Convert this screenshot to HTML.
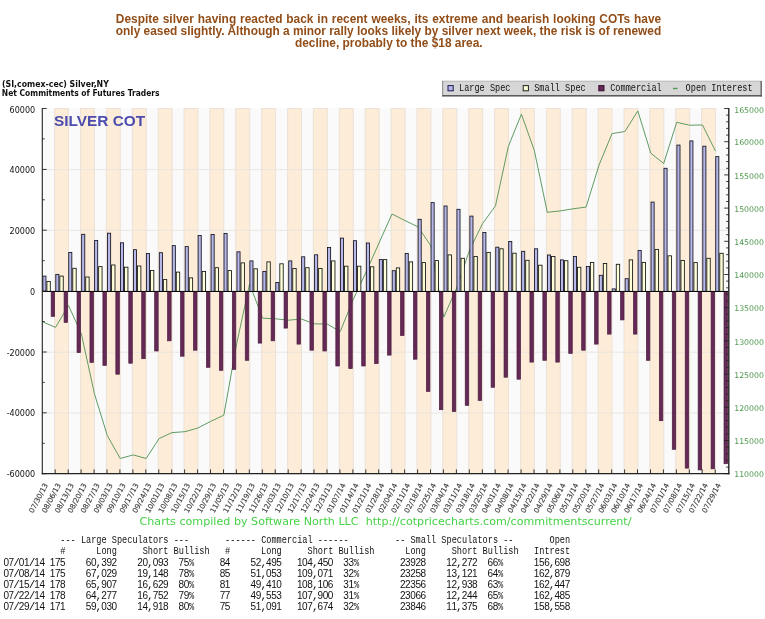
<!DOCTYPE html>
<html><head><meta charset="utf-8"><title>Silver COT</title>
<style>
html,body{margin:0;padding:0;background:#fff;}
svg{display:block;}
.hd{font-family:"Liberation Sans",sans-serif;font-weight:bold;font-size:11.9px;fill:#924e19;}
.mono{font-family:"Liberation Mono","DejaVu Sans Mono",monospace;font-size:11px;fill:#111;white-space:pre;}
.sd{font-family:"Liberation Sans",sans-serif;font-size:10px;fill:#111;}
.ax{font-family:"DejaVu Sans","Liberation Sans",sans-serif;font-size:8.05px;fill:#111;}
.dt{font-family:"DejaVu Sans","Liberation Sans",sans-serif;font-size:7.2px;fill:#3c3c3c;stroke:#3c3c3c;stroke-width:0.15px;text-anchor:end;}
.tt{font-family:"DejaVu Sans","Liberation Sans",sans-serif;font-weight:bold;font-size:8.1px;fill:#111;}
</style></head><body>
<svg width="765" height="619" viewBox="0 0 765 619">
<rect x="0" y="0" width="765" height="619" fill="#ffffff"/>
<text class="hd" x="115.8" y="22.5" textLength="545.4" lengthAdjust="spacing" style="word-spacing:0.55px">Despite silver having reacted back in recent weeks, its extreme and bearish looking COTs have</text>
<text class="hd" x="115.8" y="34.6" textLength="545.4" lengthAdjust="spacing" style="word-spacing:0px">only eased slightly. Although a minor rally looks likely by silver next week, the risk is of renewed</text>
<text class="hd" x="388.8" y="46.7" text-anchor="middle">decline, probably to the $18 area.</text>
<text class="tt" x="2" y="87.2" textLength="106.8" lengthAdjust="spacingAndGlyphs">(SI,comex-cec) Silver,NY</text>
<text class="tt" x="1.8" y="95.6" textLength="157.8" lengthAdjust="spacingAndGlyphs">Net Commitments of Futures Traders</text>
<rect x="42.3" y="108.5" width="686.5" height="365.2" fill="#fafafa"/>
<rect x="54.6" y="108.5" width="13.9" height="365.2" fill="#fdecd8" stroke="#ece2d8" stroke-width="1"/>
<rect x="80.5" y="108.5" width="13.9" height="365.2" fill="#fdecd8" stroke="#ece2d8" stroke-width="1"/>
<rect x="106.4" y="108.5" width="13.9" height="365.2" fill="#fdecd8" stroke="#ece2d8" stroke-width="1"/>
<rect x="132.3" y="108.5" width="13.9" height="365.2" fill="#fdecd8" stroke="#ece2d8" stroke-width="1"/>
<rect x="158.2" y="108.5" width="13.9" height="365.2" fill="#fdecd8" stroke="#ece2d8" stroke-width="1"/>
<rect x="184.0" y="108.5" width="13.9" height="365.2" fill="#fdecd8" stroke="#ece2d8" stroke-width="1"/>
<rect x="209.9" y="108.5" width="13.9" height="365.2" fill="#fdecd8" stroke="#ece2d8" stroke-width="1"/>
<rect x="235.8" y="108.5" width="13.9" height="365.2" fill="#fdecd8" stroke="#ece2d8" stroke-width="1"/>
<rect x="261.7" y="108.5" width="13.9" height="365.2" fill="#fdecd8" stroke="#ece2d8" stroke-width="1"/>
<rect x="287.6" y="108.5" width="13.9" height="365.2" fill="#fdecd8" stroke="#ece2d8" stroke-width="1"/>
<rect x="313.4" y="108.5" width="13.9" height="365.2" fill="#fdecd8" stroke="#ece2d8" stroke-width="1"/>
<rect x="339.3" y="108.5" width="13.9" height="365.2" fill="#fdecd8" stroke="#ece2d8" stroke-width="1"/>
<rect x="365.2" y="108.5" width="13.9" height="365.2" fill="#fdecd8" stroke="#ece2d8" stroke-width="1"/>
<rect x="391.1" y="108.5" width="13.9" height="365.2" fill="#fdecd8" stroke="#ece2d8" stroke-width="1"/>
<rect x="417.0" y="108.5" width="13.9" height="365.2" fill="#fdecd8" stroke="#ece2d8" stroke-width="1"/>
<rect x="442.8" y="108.5" width="13.9" height="365.2" fill="#fdecd8" stroke="#ece2d8" stroke-width="1"/>
<rect x="468.7" y="108.5" width="13.9" height="365.2" fill="#fdecd8" stroke="#ece2d8" stroke-width="1"/>
<rect x="494.6" y="108.5" width="13.9" height="365.2" fill="#fdecd8" stroke="#ece2d8" stroke-width="1"/>
<rect x="520.5" y="108.5" width="13.9" height="365.2" fill="#fdecd8" stroke="#ece2d8" stroke-width="1"/>
<rect x="546.4" y="108.5" width="13.9" height="365.2" fill="#fdecd8" stroke="#ece2d8" stroke-width="1"/>
<rect x="572.2" y="108.5" width="13.9" height="365.2" fill="#fdecd8" stroke="#ece2d8" stroke-width="1"/>
<rect x="598.1" y="108.5" width="13.9" height="365.2" fill="#fdecd8" stroke="#ece2d8" stroke-width="1"/>
<rect x="624.0" y="108.5" width="13.9" height="365.2" fill="#fdecd8" stroke="#ece2d8" stroke-width="1"/>
<rect x="649.9" y="108.5" width="13.9" height="365.2" fill="#fdecd8" stroke="#ece2d8" stroke-width="1"/>
<rect x="675.8" y="108.5" width="13.9" height="365.2" fill="#fdecd8" stroke="#ece2d8" stroke-width="1"/>
<rect x="701.6" y="108.5" width="13.9" height="365.2" fill="#fdecd8" stroke="#ece2d8" stroke-width="1"/>
<line x1="42.3" x2="728.8" y1="169.6" y2="169.6" stroke="#e9e4df" stroke-width="0.9"/>
<line x1="42.3" x2="728.8" y1="230.4" y2="230.4" stroke="#e9e4df" stroke-width="0.9"/>
<line x1="42.3" x2="728.8" y1="352.2" y2="352.2" stroke="#e9e4df" stroke-width="0.9"/>
<line x1="42.3" x2="728.8" y1="413.0" y2="413.0" stroke="#e9e4df" stroke-width="0.9"/>
<text x="54" y="125.8" style="font-family:'Liberation Sans',sans-serif;font-weight:bold;font-size:15.4px;fill:#4c4cae;">SILVER COT</text>
<polyline points="42.6,321.8 55.5,327.4 68.5,305.4 81.4,334.0 94.4,393.6 107.3,435.5 120.2,458.5 133.2,454.9 146.1,458.5 159.1,438.6 172.0,432.6 184.9,431.7 197.9,428.0 210.8,421.3 223.8,415.2 236.7,343.6 249.6,284.0 262.6,318.2 275.5,318.8 288.5,320.2 301.4,319.0 314.3,323.8 327.3,324.1 340.2,331.6 353.2,299.5 366.1,272.0 379.0,243.0 392.0,214.0 404.9,220.5 417.9,226.8 430.8,245.7 443.7,317.2 456.7,288.0 469.6,250.0 482.6,223.5 495.5,205.8 508.4,146.3 521.4,114.2 534.3,150.4 547.3,212.3 560.2,210.9 573.1,208.8 586.1,207.1 599.0,165.1 612.0,133.6 624.9,131.5 637.8,110.9 650.8,153.2 663.7,163.5 676.7,122.3 689.6,125.2 702.5,125.0 715.5,151.1" fill="none" stroke="#57965a" stroke-width="0.95" stroke-linejoin="round"/>
<rect x="51.15" y="291.8" width="3.5" height="24.5" fill="#642a55" stroke="#4d1c40" stroke-width="0.7"/>
<rect x="64.09" y="291.8" width="3.5" height="30.6" fill="#642a55" stroke="#4d1c40" stroke-width="0.7"/>
<rect x="77.03" y="291.8" width="3.5" height="60.8" fill="#642a55" stroke="#4d1c40" stroke-width="0.7"/>
<rect x="89.97" y="291.8" width="3.5" height="70.6" fill="#642a55" stroke="#4d1c40" stroke-width="0.7"/>
<rect x="102.91" y="291.8" width="3.5" height="73.6" fill="#642a55" stroke="#4d1c40" stroke-width="0.7"/>
<rect x="115.85" y="291.8" width="3.5" height="82.4" fill="#642a55" stroke="#4d1c40" stroke-width="0.7"/>
<rect x="128.79" y="291.8" width="3.5" height="71.4" fill="#642a55" stroke="#4d1c40" stroke-width="0.7"/>
<rect x="141.73" y="291.8" width="3.5" height="66.9" fill="#642a55" stroke="#4d1c40" stroke-width="0.7"/>
<rect x="154.67" y="291.8" width="3.5" height="59.2" fill="#642a55" stroke="#4d1c40" stroke-width="0.7"/>
<rect x="167.61" y="291.8" width="3.5" height="49.0" fill="#642a55" stroke="#4d1c40" stroke-width="0.7"/>
<rect x="180.55" y="291.8" width="3.5" height="64.4" fill="#642a55" stroke="#4d1c40" stroke-width="0.7"/>
<rect x="193.49" y="291.8" width="3.5" height="58.4" fill="#642a55" stroke="#4d1c40" stroke-width="0.7"/>
<rect x="206.43" y="291.8" width="3.5" height="75.5" fill="#642a55" stroke="#4d1c40" stroke-width="0.7"/>
<rect x="219.37" y="291.8" width="3.5" height="78.5" fill="#642a55" stroke="#4d1c40" stroke-width="0.7"/>
<rect x="232.31" y="291.8" width="3.5" height="77.6" fill="#642a55" stroke="#4d1c40" stroke-width="0.7"/>
<rect x="245.25" y="291.8" width="3.5" height="68.5" fill="#642a55" stroke="#4d1c40" stroke-width="0.7"/>
<rect x="258.19" y="291.8" width="3.5" height="51.3" fill="#642a55" stroke="#4d1c40" stroke-width="0.7"/>
<rect x="271.13" y="291.8" width="3.5" height="49.0" fill="#642a55" stroke="#4d1c40" stroke-width="0.7"/>
<rect x="284.07" y="291.8" width="3.5" height="36.3" fill="#642a55" stroke="#4d1c40" stroke-width="0.7"/>
<rect x="297.01" y="291.8" width="3.5" height="52.3" fill="#642a55" stroke="#4d1c40" stroke-width="0.7"/>
<rect x="309.95" y="291.8" width="3.5" height="58.4" fill="#642a55" stroke="#4d1c40" stroke-width="0.7"/>
<rect x="322.89" y="291.8" width="3.5" height="59.2" fill="#642a55" stroke="#4d1c40" stroke-width="0.7"/>
<rect x="335.83" y="291.8" width="3.5" height="74.2" fill="#642a55" stroke="#4d1c40" stroke-width="0.7"/>
<rect x="348.77" y="291.8" width="3.5" height="76.8" fill="#642a55" stroke="#4d1c40" stroke-width="0.7"/>
<rect x="361.71" y="291.8" width="3.5" height="74.2" fill="#642a55" stroke="#4d1c40" stroke-width="0.7"/>
<rect x="374.65" y="291.8" width="3.5" height="71.8" fill="#642a55" stroke="#4d1c40" stroke-width="0.7"/>
<rect x="387.59" y="291.8" width="3.5" height="63.3" fill="#642a55" stroke="#4d1c40" stroke-width="0.7"/>
<rect x="400.53" y="291.8" width="3.5" height="43.7" fill="#642a55" stroke="#4d1c40" stroke-width="0.7"/>
<rect x="413.47" y="291.8" width="3.5" height="67.4" fill="#642a55" stroke="#4d1c40" stroke-width="0.7"/>
<rect x="426.41" y="291.8" width="3.5" height="99.6" fill="#642a55" stroke="#4d1c40" stroke-width="0.7"/>
<rect x="439.35" y="291.8" width="3.5" height="117.9" fill="#642a55" stroke="#4d1c40" stroke-width="0.7"/>
<rect x="452.29" y="291.8" width="3.5" height="119.7" fill="#642a55" stroke="#4d1c40" stroke-width="0.7"/>
<rect x="465.23" y="291.8" width="3.5" height="113.5" fill="#642a55" stroke="#4d1c40" stroke-width="0.7"/>
<rect x="478.17" y="291.8" width="3.5" height="108.6" fill="#642a55" stroke="#4d1c40" stroke-width="0.7"/>
<rect x="491.11" y="291.8" width="3.5" height="95.5" fill="#642a55" stroke="#4d1c40" stroke-width="0.7"/>
<rect x="504.05" y="291.8" width="3.5" height="85.4" fill="#642a55" stroke="#4d1c40" stroke-width="0.7"/>
<rect x="516.99" y="291.8" width="3.5" height="87.4" fill="#642a55" stroke="#4d1c40" stroke-width="0.7"/>
<rect x="529.93" y="291.8" width="3.5" height="70.3" fill="#642a55" stroke="#4d1c40" stroke-width="0.7"/>
<rect x="542.87" y="291.8" width="3.5" height="68.5" fill="#642a55" stroke="#4d1c40" stroke-width="0.7"/>
<rect x="555.81" y="291.8" width="3.5" height="70.3" fill="#642a55" stroke="#4d1c40" stroke-width="0.7"/>
<rect x="568.75" y="291.8" width="3.5" height="61.6" fill="#642a55" stroke="#4d1c40" stroke-width="0.7"/>
<rect x="581.69" y="291.8" width="3.5" height="58.4" fill="#642a55" stroke="#4d1c40" stroke-width="0.7"/>
<rect x="594.63" y="291.8" width="3.5" height="52.3" fill="#642a55" stroke="#4d1c40" stroke-width="0.7"/>
<rect x="607.57" y="291.8" width="3.5" height="42.3" fill="#642a55" stroke="#4d1c40" stroke-width="0.7"/>
<rect x="620.51" y="291.8" width="3.5" height="28.1" fill="#642a55" stroke="#4d1c40" stroke-width="0.7"/>
<rect x="633.45" y="291.8" width="3.5" height="42.3" fill="#642a55" stroke="#4d1c40" stroke-width="0.7"/>
<rect x="646.39" y="291.8" width="3.5" height="68.5" fill="#642a55" stroke="#4d1c40" stroke-width="0.7"/>
<rect x="659.33" y="291.8" width="3.5" height="128.9" fill="#642a55" stroke="#4d1c40" stroke-width="0.7"/>
<rect x="672.27" y="291.8" width="3.5" height="157.5" fill="#642a55" stroke="#4d1c40" stroke-width="0.7"/>
<rect x="685.21" y="291.8" width="3.5" height="176.3" fill="#642a55" stroke="#4d1c40" stroke-width="0.7"/>
<rect x="698.15" y="291.8" width="3.5" height="178.1" fill="#642a55" stroke="#4d1c40" stroke-width="0.7"/>
<rect x="711.09" y="291.8" width="3.5" height="177.0" fill="#642a55" stroke="#4d1c40" stroke-width="0.7"/>
<rect x="724.03" y="291.8" width="3.5" height="171.9" fill="#642a55" stroke="#4d1c40" stroke-width="0.7"/>
<rect x="42.85" y="276.1" width="3.1" height="15.35" fill="#b8b8e8" stroke="#101020" stroke-width="0.85"/>
<rect x="46.90" y="281.4" width="3.4" height="10.05" fill="#fefed8" stroke="#101010" stroke-width="0.85"/>
<rect x="55.79" y="274.4" width="3.1" height="17.05" fill="#b8b8e8" stroke="#101020" stroke-width="0.85"/>
<rect x="59.84" y="276.1" width="3.4" height="15.35" fill="#fefed8" stroke="#101010" stroke-width="0.85"/>
<rect x="68.73" y="252.4" width="3.1" height="39.05" fill="#b8b8e8" stroke="#101020" stroke-width="0.85"/>
<rect x="72.78" y="268.3" width="3.4" height="23.15" fill="#fefed8" stroke="#101010" stroke-width="0.85"/>
<rect x="81.67" y="234.3" width="3.1" height="57.15" fill="#b8b8e8" stroke="#101020" stroke-width="0.85"/>
<rect x="85.72" y="277.0" width="3.4" height="14.45" fill="#fefed8" stroke="#101010" stroke-width="0.85"/>
<rect x="94.61" y="240.4" width="3.1" height="51.05" fill="#b8b8e8" stroke="#101020" stroke-width="0.85"/>
<rect x="98.66" y="266.6" width="3.4" height="24.85" fill="#fefed8" stroke="#101010" stroke-width="0.85"/>
<rect x="107.55" y="233.2" width="3.1" height="58.25" fill="#b8b8e8" stroke="#101020" stroke-width="0.85"/>
<rect x="111.60" y="265.0" width="3.4" height="26.45" fill="#fefed8" stroke="#101010" stroke-width="0.85"/>
<rect x="120.49" y="242.8" width="3.1" height="48.65" fill="#b8b8e8" stroke="#101020" stroke-width="0.85"/>
<rect x="124.54" y="267.2" width="3.4" height="24.25" fill="#fefed8" stroke="#101010" stroke-width="0.85"/>
<rect x="133.43" y="249.7" width="3.1" height="41.75" fill="#b8b8e8" stroke="#101020" stroke-width="0.85"/>
<rect x="137.48" y="266.0" width="3.4" height="25.45" fill="#fefed8" stroke="#101010" stroke-width="0.85"/>
<rect x="146.37" y="253.5" width="3.1" height="37.95" fill="#b8b8e8" stroke="#101020" stroke-width="0.85"/>
<rect x="150.42" y="270.5" width="3.4" height="20.95" fill="#fefed8" stroke="#101010" stroke-width="0.85"/>
<rect x="159.31" y="252.7" width="3.1" height="38.75" fill="#b8b8e8" stroke="#101020" stroke-width="0.85"/>
<rect x="163.36" y="279.6" width="3.4" height="11.85" fill="#fefed8" stroke="#101010" stroke-width="0.85"/>
<rect x="172.25" y="245.6" width="3.1" height="45.85" fill="#b8b8e8" stroke="#101020" stroke-width="0.85"/>
<rect x="176.30" y="272.1" width="3.4" height="19.35" fill="#fefed8" stroke="#101010" stroke-width="0.85"/>
<rect x="185.19" y="246.6" width="3.1" height="44.85" fill="#b8b8e8" stroke="#101020" stroke-width="0.85"/>
<rect x="189.24" y="277.9" width="3.4" height="13.55" fill="#fefed8" stroke="#101010" stroke-width="0.85"/>
<rect x="198.13" y="235.5" width="3.1" height="55.95" fill="#b8b8e8" stroke="#101020" stroke-width="0.85"/>
<rect x="202.18" y="271.4" width="3.4" height="20.05" fill="#fefed8" stroke="#101010" stroke-width="0.85"/>
<rect x="211.07" y="234.5" width="3.1" height="56.95" fill="#b8b8e8" stroke="#101020" stroke-width="0.85"/>
<rect x="215.12" y="267.7" width="3.4" height="23.75" fill="#fefed8" stroke="#101010" stroke-width="0.85"/>
<rect x="224.01" y="233.5" width="3.1" height="57.95" fill="#b8b8e8" stroke="#101020" stroke-width="0.85"/>
<rect x="228.06" y="270.6" width="3.4" height="20.85" fill="#fefed8" stroke="#101010" stroke-width="0.85"/>
<rect x="236.95" y="251.8" width="3.1" height="39.65" fill="#b8b8e8" stroke="#101020" stroke-width="0.85"/>
<rect x="241.00" y="262.9" width="3.4" height="28.55" fill="#fefed8" stroke="#101010" stroke-width="0.85"/>
<rect x="249.89" y="260.9" width="3.1" height="30.55" fill="#b8b8e8" stroke="#101020" stroke-width="0.85"/>
<rect x="253.94" y="268.8" width="3.4" height="22.65" fill="#fefed8" stroke="#101010" stroke-width="0.85"/>
<rect x="262.83" y="271.4" width="3.1" height="20.05" fill="#b8b8e8" stroke="#101020" stroke-width="0.85"/>
<rect x="266.88" y="261.9" width="3.4" height="29.55" fill="#fefed8" stroke="#101010" stroke-width="0.85"/>
<rect x="275.77" y="282.5" width="3.1" height="8.95" fill="#b8b8e8" stroke="#101020" stroke-width="0.85"/>
<rect x="279.82" y="263.8" width="3.4" height="27.65" fill="#fefed8" stroke="#101010" stroke-width="0.85"/>
<rect x="288.71" y="260.9" width="3.1" height="30.55" fill="#b8b8e8" stroke="#101020" stroke-width="0.85"/>
<rect x="292.76" y="268.5" width="3.4" height="22.95" fill="#fefed8" stroke="#101010" stroke-width="0.85"/>
<rect x="301.65" y="256.8" width="3.1" height="34.65" fill="#b8b8e8" stroke="#101020" stroke-width="0.85"/>
<rect x="305.70" y="267.7" width="3.4" height="23.75" fill="#fefed8" stroke="#101010" stroke-width="0.85"/>
<rect x="314.59" y="254.8" width="3.1" height="36.65" fill="#b8b8e8" stroke="#101020" stroke-width="0.85"/>
<rect x="318.64" y="268.5" width="3.4" height="22.95" fill="#fefed8" stroke="#101010" stroke-width="0.85"/>
<rect x="327.53" y="247.5" width="3.1" height="43.95" fill="#b8b8e8" stroke="#101020" stroke-width="0.85"/>
<rect x="331.58" y="260.9" width="3.4" height="30.55" fill="#fefed8" stroke="#101010" stroke-width="0.85"/>
<rect x="340.47" y="238.1" width="3.1" height="53.35" fill="#b8b8e8" stroke="#101020" stroke-width="0.85"/>
<rect x="344.52" y="266.2" width="3.4" height="25.25" fill="#fefed8" stroke="#101010" stroke-width="0.85"/>
<rect x="353.41" y="240.7" width="3.1" height="50.75" fill="#b8b8e8" stroke="#101020" stroke-width="0.85"/>
<rect x="357.46" y="266.2" width="3.4" height="25.25" fill="#fefed8" stroke="#101010" stroke-width="0.85"/>
<rect x="366.35" y="243.0" width="3.1" height="48.45" fill="#b8b8e8" stroke="#101020" stroke-width="0.85"/>
<rect x="370.40" y="266.8" width="3.4" height="24.65" fill="#fefed8" stroke="#101010" stroke-width="0.85"/>
<rect x="379.29" y="259.6" width="3.1" height="31.85" fill="#b8b8e8" stroke="#101020" stroke-width="0.85"/>
<rect x="383.34" y="259.6" width="3.4" height="31.85" fill="#fefed8" stroke="#101010" stroke-width="0.85"/>
<rect x="392.23" y="270.7" width="3.1" height="20.75" fill="#b8b8e8" stroke="#101020" stroke-width="0.85"/>
<rect x="396.28" y="267.9" width="3.4" height="23.55" fill="#fefed8" stroke="#101010" stroke-width="0.85"/>
<rect x="405.17" y="253.5" width="3.1" height="37.95" fill="#b8b8e8" stroke="#101020" stroke-width="0.85"/>
<rect x="409.22" y="261.9" width="3.4" height="29.55" fill="#fefed8" stroke="#101010" stroke-width="0.85"/>
<rect x="418.11" y="219.3" width="3.1" height="72.15" fill="#b8b8e8" stroke="#101020" stroke-width="0.85"/>
<rect x="422.16" y="262.6" width="3.4" height="28.85" fill="#fefed8" stroke="#101010" stroke-width="0.85"/>
<rect x="431.05" y="202.6" width="3.1" height="88.85" fill="#b8b8e8" stroke="#101020" stroke-width="0.85"/>
<rect x="435.10" y="260.6" width="3.4" height="30.85" fill="#fefed8" stroke="#101010" stroke-width="0.85"/>
<rect x="443.99" y="206.0" width="3.1" height="85.45" fill="#b8b8e8" stroke="#101020" stroke-width="0.85"/>
<rect x="448.04" y="254.9" width="3.4" height="36.55" fill="#fefed8" stroke="#101010" stroke-width="0.85"/>
<rect x="456.93" y="209.3" width="3.1" height="82.15" fill="#b8b8e8" stroke="#101020" stroke-width="0.85"/>
<rect x="460.98" y="258.3" width="3.4" height="33.15" fill="#fefed8" stroke="#101010" stroke-width="0.85"/>
<rect x="469.87" y="216.1" width="3.1" height="75.35" fill="#b8b8e8" stroke="#101020" stroke-width="0.85"/>
<rect x="473.92" y="256.5" width="3.4" height="34.95" fill="#fefed8" stroke="#101010" stroke-width="0.85"/>
<rect x="482.81" y="232.5" width="3.1" height="58.95" fill="#b8b8e8" stroke="#101020" stroke-width="0.85"/>
<rect x="486.86" y="252.4" width="3.4" height="39.05" fill="#fefed8" stroke="#101010" stroke-width="0.85"/>
<rect x="495.75" y="247.2" width="3.1" height="44.25" fill="#b8b8e8" stroke="#101020" stroke-width="0.85"/>
<rect x="499.80" y="248.8" width="3.4" height="42.65" fill="#fefed8" stroke="#101010" stroke-width="0.85"/>
<rect x="508.69" y="241.5" width="3.1" height="49.95" fill="#b8b8e8" stroke="#101020" stroke-width="0.85"/>
<rect x="512.74" y="253.2" width="3.4" height="38.25" fill="#fefed8" stroke="#101010" stroke-width="0.85"/>
<rect x="521.63" y="251.3" width="3.1" height="40.15" fill="#b8b8e8" stroke="#101020" stroke-width="0.85"/>
<rect x="525.68" y="260.3" width="3.4" height="31.15" fill="#fefed8" stroke="#101010" stroke-width="0.85"/>
<rect x="534.57" y="248.8" width="3.1" height="42.65" fill="#b8b8e8" stroke="#101020" stroke-width="0.85"/>
<rect x="538.62" y="265.2" width="3.4" height="26.25" fill="#fefed8" stroke="#101010" stroke-width="0.85"/>
<rect x="547.51" y="255.0" width="3.1" height="36.45" fill="#b8b8e8" stroke="#101020" stroke-width="0.85"/>
<rect x="551.56" y="256.5" width="3.4" height="34.95" fill="#fefed8" stroke="#101010" stroke-width="0.85"/>
<rect x="560.45" y="259.9" width="3.1" height="31.55" fill="#b8b8e8" stroke="#101020" stroke-width="0.85"/>
<rect x="564.50" y="260.7" width="3.4" height="30.75" fill="#fefed8" stroke="#101010" stroke-width="0.85"/>
<rect x="573.39" y="256.5" width="3.1" height="34.95" fill="#b8b8e8" stroke="#101020" stroke-width="0.85"/>
<rect x="577.44" y="267.3" width="3.4" height="24.15" fill="#fefed8" stroke="#101010" stroke-width="0.85"/>
<rect x="586.33" y="266.5" width="3.1" height="24.95" fill="#b8b8e8" stroke="#101020" stroke-width="0.85"/>
<rect x="590.38" y="262.4" width="3.4" height="29.05" fill="#fefed8" stroke="#101010" stroke-width="0.85"/>
<rect x="599.27" y="275.3" width="3.1" height="16.15" fill="#b8b8e8" stroke="#101020" stroke-width="0.85"/>
<rect x="603.32" y="263.5" width="3.4" height="27.95" fill="#fefed8" stroke="#101010" stroke-width="0.85"/>
<rect x="612.21" y="288.9" width="3.1" height="2.55" fill="#b8b8e8" stroke="#101020" stroke-width="0.85"/>
<rect x="616.26" y="264.3" width="3.4" height="27.15" fill="#fefed8" stroke="#101010" stroke-width="0.85"/>
<rect x="625.15" y="278.7" width="3.1" height="12.75" fill="#b8b8e8" stroke="#101020" stroke-width="0.85"/>
<rect x="629.20" y="259.9" width="3.4" height="31.55" fill="#fefed8" stroke="#101010" stroke-width="0.85"/>
<rect x="638.09" y="250.4" width="3.1" height="41.05" fill="#b8b8e8" stroke="#101020" stroke-width="0.85"/>
<rect x="642.14" y="262.4" width="3.4" height="29.05" fill="#fefed8" stroke="#101010" stroke-width="0.85"/>
<rect x="651.03" y="202.1" width="3.1" height="89.35" fill="#b8b8e8" stroke="#101020" stroke-width="0.85"/>
<rect x="655.08" y="249.4" width="3.4" height="42.05" fill="#fefed8" stroke="#101010" stroke-width="0.85"/>
<rect x="663.97" y="168.3" width="3.1" height="123.15" fill="#b8b8e8" stroke="#101020" stroke-width="0.85"/>
<rect x="668.02" y="255.8" width="3.4" height="35.65" fill="#fefed8" stroke="#101010" stroke-width="0.85"/>
<rect x="676.91" y="145.1" width="3.1" height="146.35" fill="#b8b8e8" stroke="#101020" stroke-width="0.85"/>
<rect x="680.96" y="260.4" width="3.4" height="31.05" fill="#fefed8" stroke="#101010" stroke-width="0.85"/>
<rect x="689.85" y="140.9" width="3.1" height="150.55" fill="#b8b8e8" stroke="#101020" stroke-width="0.85"/>
<rect x="693.90" y="262.6" width="3.4" height="28.85" fill="#fefed8" stroke="#101010" stroke-width="0.85"/>
<rect x="702.79" y="146.2" width="3.1" height="145.25" fill="#b8b8e8" stroke="#101020" stroke-width="0.85"/>
<rect x="706.84" y="258.3" width="3.4" height="33.15" fill="#fefed8" stroke="#101010" stroke-width="0.85"/>
<rect x="715.73" y="156.6" width="3.1" height="134.85" fill="#b8b8e8" stroke="#101020" stroke-width="0.85"/>
<rect x="719.78" y="253.3" width="3.4" height="38.15" fill="#fefed8" stroke="#101010" stroke-width="0.85"/>
<line x1="42.3" x2="728.8" y1="291.45" y2="291.45" stroke="#000" stroke-width="0.95"/>
<line x1="42.3" x2="42.3" y1="108.0" y2="474.3" stroke="#2a2a2a" stroke-width="1.15"/>
<line x1="728.8" x2="728.8" y1="108.0" y2="474.3" stroke="#222" stroke-width="1.4"/>
<line x1="41.699999999999996" x2="729.5999999999999" y1="473.7" y2="473.7" stroke="#222" stroke-width="1.3"/>
<line x1="42.3" x2="46.699999999999996" y1="108.5" y2="108.5" stroke="#222" stroke-width="0.9"/>
<text class="ax" x="35.2" y="113.1" text-anchor="end">60000</text>
<line x1="42.3" x2="44.699999999999996" y1="138.9" y2="138.9" stroke="#222" stroke-width="0.9"/>
<line x1="42.3" x2="46.699999999999996" y1="169.4" y2="169.4" stroke="#222" stroke-width="0.9"/>
<text class="ax" x="35.2" y="173.2" text-anchor="end">40000</text>
<line x1="42.3" x2="44.699999999999996" y1="199.8" y2="199.8" stroke="#222" stroke-width="0.9"/>
<line x1="42.3" x2="46.699999999999996" y1="230.2" y2="230.2" stroke="#222" stroke-width="0.9"/>
<text class="ax" x="35.2" y="234.0" text-anchor="end">20000</text>
<line x1="42.3" x2="44.699999999999996" y1="260.7" y2="260.7" stroke="#222" stroke-width="0.9"/>
<line x1="42.3" x2="46.699999999999996" y1="291.1" y2="291.1" stroke="#222" stroke-width="0.9"/>
<text class="ax" x="35.2" y="294.9" text-anchor="end">0</text>
<line x1="42.3" x2="44.699999999999996" y1="321.5" y2="321.5" stroke="#222" stroke-width="0.9"/>
<line x1="42.3" x2="46.699999999999996" y1="352.0" y2="352.0" stroke="#222" stroke-width="0.9"/>
<text class="ax" x="35.2" y="355.8" text-anchor="end">-20000</text>
<line x1="42.3" x2="44.699999999999996" y1="382.4" y2="382.4" stroke="#222" stroke-width="0.9"/>
<line x1="42.3" x2="46.699999999999996" y1="412.8" y2="412.8" stroke="#222" stroke-width="0.9"/>
<text class="ax" x="35.2" y="416.1" text-anchor="end">-40000</text>
<line x1="42.3" x2="44.699999999999996" y1="443.3" y2="443.3" stroke="#222" stroke-width="0.9"/>
<line x1="42.3" x2="46.699999999999996" y1="473.7" y2="473.7" stroke="#222" stroke-width="0.9"/>
<text class="ax" x="35.2" y="477.0" text-anchor="end">-60000</text>
<line x1="724.1999999999999" x2="728.8" y1="108.5" y2="108.5" stroke="#222" stroke-width="0.9"/>
<text class="ax" x="734.2" y="112.9" style="fill:#4f984f;font-size:7.8px">165000</text>
<line x1="726.1999999999999" x2="728.8" y1="115.1" y2="115.1" stroke="#222" stroke-width="0.9"/>
<line x1="726.1999999999999" x2="728.8" y1="121.8" y2="121.8" stroke="#222" stroke-width="0.9"/>
<line x1="726.1999999999999" x2="728.8" y1="128.4" y2="128.4" stroke="#222" stroke-width="0.9"/>
<line x1="726.1999999999999" x2="728.8" y1="135.1" y2="135.1" stroke="#222" stroke-width="0.9"/>
<line x1="724.1999999999999" x2="728.8" y1="141.7" y2="141.7" stroke="#222" stroke-width="0.9"/>
<text class="ax" x="734.2" y="145.4" style="fill:#4f984f;font-size:7.8px">160000</text>
<line x1="726.1999999999999" x2="728.8" y1="148.3" y2="148.3" stroke="#222" stroke-width="0.9"/>
<line x1="726.1999999999999" x2="728.8" y1="155.0" y2="155.0" stroke="#222" stroke-width="0.9"/>
<line x1="726.1999999999999" x2="728.8" y1="161.6" y2="161.6" stroke="#222" stroke-width="0.9"/>
<line x1="726.1999999999999" x2="728.8" y1="168.3" y2="168.3" stroke="#222" stroke-width="0.9"/>
<line x1="724.1999999999999" x2="728.8" y1="174.9" y2="174.9" stroke="#222" stroke-width="0.9"/>
<text class="ax" x="734.2" y="178.6" style="fill:#4f984f;font-size:7.8px">155000</text>
<line x1="726.1999999999999" x2="728.8" y1="181.5" y2="181.5" stroke="#222" stroke-width="0.9"/>
<line x1="726.1999999999999" x2="728.8" y1="188.2" y2="188.2" stroke="#222" stroke-width="0.9"/>
<line x1="726.1999999999999" x2="728.8" y1="194.8" y2="194.8" stroke="#222" stroke-width="0.9"/>
<line x1="726.1999999999999" x2="728.8" y1="201.5" y2="201.5" stroke="#222" stroke-width="0.9"/>
<line x1="724.1999999999999" x2="728.8" y1="208.1" y2="208.1" stroke="#222" stroke-width="0.9"/>
<text class="ax" x="734.2" y="211.8" style="fill:#4f984f;font-size:7.8px">150000</text>
<line x1="726.1999999999999" x2="728.8" y1="214.7" y2="214.7" stroke="#222" stroke-width="0.9"/>
<line x1="726.1999999999999" x2="728.8" y1="221.4" y2="221.4" stroke="#222" stroke-width="0.9"/>
<line x1="726.1999999999999" x2="728.8" y1="228.0" y2="228.0" stroke="#222" stroke-width="0.9"/>
<line x1="726.1999999999999" x2="728.8" y1="234.7" y2="234.7" stroke="#222" stroke-width="0.9"/>
<line x1="724.1999999999999" x2="728.8" y1="241.3" y2="241.3" stroke="#222" stroke-width="0.9"/>
<text class="ax" x="734.2" y="245.0" style="fill:#4f984f;font-size:7.8px">145000</text>
<line x1="726.1999999999999" x2="728.8" y1="247.9" y2="247.9" stroke="#222" stroke-width="0.9"/>
<line x1="726.1999999999999" x2="728.8" y1="254.6" y2="254.6" stroke="#222" stroke-width="0.9"/>
<line x1="726.1999999999999" x2="728.8" y1="261.2" y2="261.2" stroke="#222" stroke-width="0.9"/>
<line x1="726.1999999999999" x2="728.8" y1="267.9" y2="267.9" stroke="#222" stroke-width="0.9"/>
<line x1="724.1999999999999" x2="728.8" y1="274.5" y2="274.5" stroke="#222" stroke-width="0.9"/>
<text class="ax" x="734.2" y="278.2" style="fill:#4f984f;font-size:7.8px">140000</text>
<line x1="726.1999999999999" x2="728.8" y1="281.1" y2="281.1" stroke="#222" stroke-width="0.9"/>
<line x1="726.1999999999999" x2="728.8" y1="287.8" y2="287.8" stroke="#222" stroke-width="0.9"/>
<line x1="726.1999999999999" x2="728.8" y1="294.4" y2="294.4" stroke="#222" stroke-width="0.9"/>
<line x1="726.1999999999999" x2="728.8" y1="301.1" y2="301.1" stroke="#222" stroke-width="0.9"/>
<line x1="724.1999999999999" x2="728.8" y1="307.7" y2="307.7" stroke="#222" stroke-width="0.9"/>
<text class="ax" x="734.2" y="311.4" style="fill:#4f984f;font-size:7.8px">135000</text>
<line x1="726.1999999999999" x2="728.8" y1="314.3" y2="314.3" stroke="#222" stroke-width="0.9"/>
<line x1="726.1999999999999" x2="728.8" y1="321.0" y2="321.0" stroke="#222" stroke-width="0.9"/>
<line x1="726.1999999999999" x2="728.8" y1="327.6" y2="327.6" stroke="#222" stroke-width="0.9"/>
<line x1="726.1999999999999" x2="728.8" y1="334.3" y2="334.3" stroke="#222" stroke-width="0.9"/>
<line x1="724.1999999999999" x2="728.8" y1="340.9" y2="340.9" stroke="#222" stroke-width="0.9"/>
<text class="ax" x="734.2" y="344.6" style="fill:#4f984f;font-size:7.8px">130000</text>
<line x1="726.1999999999999" x2="728.8" y1="347.5" y2="347.5" stroke="#222" stroke-width="0.9"/>
<line x1="726.1999999999999" x2="728.8" y1="354.2" y2="354.2" stroke="#222" stroke-width="0.9"/>
<line x1="726.1999999999999" x2="728.8" y1="360.8" y2="360.8" stroke="#222" stroke-width="0.9"/>
<line x1="726.1999999999999" x2="728.8" y1="367.5" y2="367.5" stroke="#222" stroke-width="0.9"/>
<line x1="724.1999999999999" x2="728.8" y1="374.1" y2="374.1" stroke="#222" stroke-width="0.9"/>
<text class="ax" x="734.2" y="377.8" style="fill:#4f984f;font-size:7.8px">125000</text>
<line x1="726.1999999999999" x2="728.8" y1="380.7" y2="380.7" stroke="#222" stroke-width="0.9"/>
<line x1="726.1999999999999" x2="728.8" y1="387.4" y2="387.4" stroke="#222" stroke-width="0.9"/>
<line x1="726.1999999999999" x2="728.8" y1="394.0" y2="394.0" stroke="#222" stroke-width="0.9"/>
<line x1="726.1999999999999" x2="728.8" y1="400.7" y2="400.7" stroke="#222" stroke-width="0.9"/>
<line x1="724.1999999999999" x2="728.8" y1="407.3" y2="407.3" stroke="#222" stroke-width="0.9"/>
<text class="ax" x="734.2" y="411.0" style="fill:#4f984f;font-size:7.8px">120000</text>
<line x1="726.1999999999999" x2="728.8" y1="413.9" y2="413.9" stroke="#222" stroke-width="0.9"/>
<line x1="726.1999999999999" x2="728.8" y1="420.6" y2="420.6" stroke="#222" stroke-width="0.9"/>
<line x1="726.1999999999999" x2="728.8" y1="427.2" y2="427.2" stroke="#222" stroke-width="0.9"/>
<line x1="726.1999999999999" x2="728.8" y1="433.9" y2="433.9" stroke="#222" stroke-width="0.9"/>
<line x1="724.1999999999999" x2="728.8" y1="440.5" y2="440.5" stroke="#222" stroke-width="0.9"/>
<text class="ax" x="734.2" y="444.2" style="fill:#4f984f;font-size:7.8px">115000</text>
<line x1="726.1999999999999" x2="728.8" y1="447.1" y2="447.1" stroke="#222" stroke-width="0.9"/>
<line x1="726.1999999999999" x2="728.8" y1="453.8" y2="453.8" stroke="#222" stroke-width="0.9"/>
<line x1="726.1999999999999" x2="728.8" y1="460.4" y2="460.4" stroke="#222" stroke-width="0.9"/>
<line x1="726.1999999999999" x2="728.8" y1="467.1" y2="467.1" stroke="#222" stroke-width="0.9"/>
<line x1="724.1999999999999" x2="728.8" y1="473.7" y2="473.7" stroke="#222" stroke-width="0.9"/>
<text class="ax" x="734.2" y="476.9" style="fill:#4f984f;font-size:7.8px">110000</text>
<text class="dt" transform="translate(48.2,485.0) rotate(-62)">07/30/13</text>
<line x1="55.2" x2="55.2" y1="469.4" y2="473.7" stroke="#222" stroke-width="0.9"/>
<text class="dt" transform="translate(61.1,485.0) rotate(-62)">08/06/13</text>
<line x1="68.2" x2="68.2" y1="469.4" y2="473.7" stroke="#222" stroke-width="0.9"/>
<text class="dt" transform="translate(74.1,485.0) rotate(-62)">08/13/13</text>
<line x1="81.1" x2="81.1" y1="469.4" y2="473.7" stroke="#222" stroke-width="0.9"/>
<text class="dt" transform="translate(87.0,485.0) rotate(-62)">08/20/13</text>
<line x1="94.1" x2="94.1" y1="469.4" y2="473.7" stroke="#222" stroke-width="0.9"/>
<text class="dt" transform="translate(100.0,485.0) rotate(-62)">08/27/13</text>
<line x1="107.0" x2="107.0" y1="469.4" y2="473.7" stroke="#222" stroke-width="0.9"/>
<text class="dt" transform="translate(112.9,485.0) rotate(-62)">09/03/13</text>
<line x1="119.9" x2="119.9" y1="469.4" y2="473.7" stroke="#222" stroke-width="0.9"/>
<text class="dt" transform="translate(125.8,485.0) rotate(-62)">09/10/13</text>
<line x1="132.9" x2="132.9" y1="469.4" y2="473.7" stroke="#222" stroke-width="0.9"/>
<text class="dt" transform="translate(138.8,485.0) rotate(-62)">09/17/13</text>
<line x1="145.8" x2="145.8" y1="469.4" y2="473.7" stroke="#222" stroke-width="0.9"/>
<text class="dt" transform="translate(151.7,485.0) rotate(-62)">09/24/13</text>
<line x1="158.8" x2="158.8" y1="469.4" y2="473.7" stroke="#222" stroke-width="0.9"/>
<text class="dt" transform="translate(164.7,485.0) rotate(-62)">10/01/13</text>
<line x1="171.7" x2="171.7" y1="469.4" y2="473.7" stroke="#222" stroke-width="0.9"/>
<text class="dt" transform="translate(177.6,485.0) rotate(-62)">10/08/13</text>
<line x1="184.6" x2="184.6" y1="469.4" y2="473.7" stroke="#222" stroke-width="0.9"/>
<text class="dt" transform="translate(190.5,485.0) rotate(-62)">10/15/13</text>
<line x1="197.6" x2="197.6" y1="469.4" y2="473.7" stroke="#222" stroke-width="0.9"/>
<text class="dt" transform="translate(203.5,485.0) rotate(-62)">10/22/13</text>
<line x1="210.5" x2="210.5" y1="469.4" y2="473.7" stroke="#222" stroke-width="0.9"/>
<text class="dt" transform="translate(216.4,485.0) rotate(-62)">10/29/13</text>
<line x1="223.5" x2="223.5" y1="469.4" y2="473.7" stroke="#222" stroke-width="0.9"/>
<text class="dt" transform="translate(229.4,485.0) rotate(-62)">11/05/13</text>
<line x1="236.4" x2="236.4" y1="469.4" y2="473.7" stroke="#222" stroke-width="0.9"/>
<text class="dt" transform="translate(242.3,485.0) rotate(-62)">11/12/13</text>
<line x1="249.3" x2="249.3" y1="469.4" y2="473.7" stroke="#222" stroke-width="0.9"/>
<text class="dt" transform="translate(255.2,485.0) rotate(-62)">11/19/13</text>
<line x1="262.3" x2="262.3" y1="469.4" y2="473.7" stroke="#222" stroke-width="0.9"/>
<text class="dt" transform="translate(268.2,485.0) rotate(-62)">11/26/13</text>
<line x1="275.2" x2="275.2" y1="469.4" y2="473.7" stroke="#222" stroke-width="0.9"/>
<text class="dt" transform="translate(281.1,485.0) rotate(-62)">12/03/13</text>
<line x1="288.2" x2="288.2" y1="469.4" y2="473.7" stroke="#222" stroke-width="0.9"/>
<text class="dt" transform="translate(294.1,485.0) rotate(-62)">12/10/13</text>
<line x1="301.1" x2="301.1" y1="469.4" y2="473.7" stroke="#222" stroke-width="0.9"/>
<text class="dt" transform="translate(307.0,485.0) rotate(-62)">12/17/13</text>
<line x1="314.0" x2="314.0" y1="469.4" y2="473.7" stroke="#222" stroke-width="0.9"/>
<text class="dt" transform="translate(319.9,485.0) rotate(-62)">12/24/13</text>
<line x1="327.0" x2="327.0" y1="469.4" y2="473.7" stroke="#222" stroke-width="0.9"/>
<text class="dt" transform="translate(332.9,485.0) rotate(-62)">12/31/13</text>
<line x1="339.9" x2="339.9" y1="469.4" y2="473.7" stroke="#222" stroke-width="0.9"/>
<text class="dt" transform="translate(345.8,485.0) rotate(-62)">01/07/14</text>
<line x1="352.9" x2="352.9" y1="469.4" y2="473.7" stroke="#222" stroke-width="0.9"/>
<text class="dt" transform="translate(358.8,485.0) rotate(-62)">01/14/14</text>
<line x1="365.8" x2="365.8" y1="469.4" y2="473.7" stroke="#222" stroke-width="0.9"/>
<text class="dt" transform="translate(371.7,485.0) rotate(-62)">01/21/14</text>
<line x1="378.7" x2="378.7" y1="469.4" y2="473.7" stroke="#222" stroke-width="0.9"/>
<text class="dt" transform="translate(384.6,485.0) rotate(-62)">01/28/14</text>
<line x1="391.7" x2="391.7" y1="469.4" y2="473.7" stroke="#222" stroke-width="0.9"/>
<text class="dt" transform="translate(397.6,485.0) rotate(-62)">02/04/14</text>
<line x1="404.6" x2="404.6" y1="469.4" y2="473.7" stroke="#222" stroke-width="0.9"/>
<text class="dt" transform="translate(410.5,485.0) rotate(-62)">02/11/14</text>
<line x1="417.6" x2="417.6" y1="469.4" y2="473.7" stroke="#222" stroke-width="0.9"/>
<text class="dt" transform="translate(423.5,485.0) rotate(-62)">02/18/14</text>
<line x1="430.5" x2="430.5" y1="469.4" y2="473.7" stroke="#222" stroke-width="0.9"/>
<text class="dt" transform="translate(436.4,485.0) rotate(-62)">02/25/14</text>
<line x1="443.4" x2="443.4" y1="469.4" y2="473.7" stroke="#222" stroke-width="0.9"/>
<text class="dt" transform="translate(449.3,485.0) rotate(-62)">03/04/14</text>
<line x1="456.4" x2="456.4" y1="469.4" y2="473.7" stroke="#222" stroke-width="0.9"/>
<text class="dt" transform="translate(462.3,485.0) rotate(-62)">03/11/14</text>
<line x1="469.3" x2="469.3" y1="469.4" y2="473.7" stroke="#222" stroke-width="0.9"/>
<text class="dt" transform="translate(475.2,485.0) rotate(-62)">03/18/14</text>
<line x1="482.3" x2="482.3" y1="469.4" y2="473.7" stroke="#222" stroke-width="0.9"/>
<text class="dt" transform="translate(488.2,485.0) rotate(-62)">03/25/14</text>
<line x1="495.2" x2="495.2" y1="469.4" y2="473.7" stroke="#222" stroke-width="0.9"/>
<text class="dt" transform="translate(501.1,485.0) rotate(-62)">04/01/14</text>
<line x1="508.1" x2="508.1" y1="469.4" y2="473.7" stroke="#222" stroke-width="0.9"/>
<text class="dt" transform="translate(514.0,485.0) rotate(-62)">04/08/14</text>
<line x1="521.1" x2="521.1" y1="469.4" y2="473.7" stroke="#222" stroke-width="0.9"/>
<text class="dt" transform="translate(527.0,485.0) rotate(-62)">04/15/14</text>
<line x1="534.0" x2="534.0" y1="469.4" y2="473.7" stroke="#222" stroke-width="0.9"/>
<text class="dt" transform="translate(539.9,485.0) rotate(-62)">04/22/14</text>
<line x1="547.0" x2="547.0" y1="469.4" y2="473.7" stroke="#222" stroke-width="0.9"/>
<text class="dt" transform="translate(552.9,485.0) rotate(-62)">04/29/14</text>
<line x1="559.9" x2="559.9" y1="469.4" y2="473.7" stroke="#222" stroke-width="0.9"/>
<text class="dt" transform="translate(565.8,485.0) rotate(-62)">05/06/14</text>
<line x1="572.8" x2="572.8" y1="469.4" y2="473.7" stroke="#222" stroke-width="0.9"/>
<text class="dt" transform="translate(578.7,485.0) rotate(-62)">05/13/14</text>
<line x1="585.8" x2="585.8" y1="469.4" y2="473.7" stroke="#222" stroke-width="0.9"/>
<text class="dt" transform="translate(591.7,485.0) rotate(-62)">05/20/14</text>
<line x1="598.7" x2="598.7" y1="469.4" y2="473.7" stroke="#222" stroke-width="0.9"/>
<text class="dt" transform="translate(604.6,485.0) rotate(-62)">05/27/14</text>
<line x1="611.7" x2="611.7" y1="469.4" y2="473.7" stroke="#222" stroke-width="0.9"/>
<text class="dt" transform="translate(617.6,485.0) rotate(-62)">06/03/14</text>
<line x1="624.6" x2="624.6" y1="469.4" y2="473.7" stroke="#222" stroke-width="0.9"/>
<text class="dt" transform="translate(630.5,485.0) rotate(-62)">06/10/14</text>
<line x1="637.5" x2="637.5" y1="469.4" y2="473.7" stroke="#222" stroke-width="0.9"/>
<text class="dt" transform="translate(643.4,485.0) rotate(-62)">06/17/14</text>
<line x1="650.5" x2="650.5" y1="469.4" y2="473.7" stroke="#222" stroke-width="0.9"/>
<text class="dt" transform="translate(656.4,485.0) rotate(-62)">06/24/14</text>
<line x1="663.4" x2="663.4" y1="469.4" y2="473.7" stroke="#222" stroke-width="0.9"/>
<text class="dt" transform="translate(669.3,485.0) rotate(-62)">07/01/14</text>
<line x1="676.4" x2="676.4" y1="469.4" y2="473.7" stroke="#222" stroke-width="0.9"/>
<text class="dt" transform="translate(682.3,485.0) rotate(-62)">07/08/14</text>
<line x1="689.3" x2="689.3" y1="469.4" y2="473.7" stroke="#222" stroke-width="0.9"/>
<text class="dt" transform="translate(695.2,485.0) rotate(-62)">07/15/14</text>
<line x1="702.2" x2="702.2" y1="469.4" y2="473.7" stroke="#222" stroke-width="0.9"/>
<text class="dt" transform="translate(708.1,485.0) rotate(-62)">07/22/14</text>
<line x1="715.2" x2="715.2" y1="469.4" y2="473.7" stroke="#222" stroke-width="0.9"/>
<text class="dt" transform="translate(721.1,485.0) rotate(-62)">07/29/14</text>
<text x="139.5" y="525" style="font-family:'DejaVu Sans','Liberation Sans',sans-serif;font-size:10.2px;fill:#46d246;white-space:pre;" textLength="492" lengthAdjust="spacingAndGlyphs">Charts compiled by Software North LLC  http://cotpricecharts.com/commitmentscurrent/</text>
<rect x="442.3" y="80.9" width="319.3" height="15.6" fill="#d6d6d6"/>
<line x1="442.3" x2="761.6" y1="81.2" y2="81.2" stroke="#b4b4b4" stroke-width="0.8"/>
<line x1="442.7" x2="442.7" y1="80.9" y2="96.5" stroke="#7c7c7c" stroke-width="0.9"/>
<line x1="442.3" x2="761.9" y1="95.8" y2="95.8" stroke="#5a5a5a" stroke-width="1.5"/>
<line x1="761.2" x2="761.2" y1="80.9" y2="96.5" stroke="#5a5a5a" stroke-width="1.3"/>
<rect x="448" y="85.6" width="5.2" height="5.2" fill="#b6b6e6" stroke="#1a1a50" stroke-width="1"/>
<text class="mono" x="459.0" y="91.4" textLength="51.5" lengthAdjust="spacingAndGlyphs">Large Spec</text>
<rect x="523.2" y="85.6" width="5.2" height="5.2" fill="#fefed6" stroke="#222" stroke-width="1"/>
<text class="mono" x="534.2" y="91.4" textLength="51.5" lengthAdjust="spacingAndGlyphs">Small Spec</text>
<rect x="598.8" y="85.6" width="5.2" height="5.2" fill="#642a55" stroke="#3a1030" stroke-width="1"/>
<text class="mono" x="610.2" y="91.4" textLength="51.5" lengthAdjust="spacingAndGlyphs">Commercial</text>
<line x1="673" x2="677.5" y1="88.5" y2="88.5" stroke="#4f984f" stroke-width="1.4"/>
<text class="mono" x="685.6" y="91.4" textLength="67.0" lengthAdjust="spacingAndGlyphs">Open Interest</text>
<text class="mono" x="60.3" y="543.4" textLength="128.8" lengthAdjust="spacingAndGlyphs">--- Large Speculators ---</text>
<text class="mono" x="225.1" y="543.4" textLength="123.6" lengthAdjust="spacingAndGlyphs">------ Commercial ------</text>
<text class="mono" x="395.0" y="543.4" textLength="118.5" lengthAdjust="spacingAndGlyphs">-- Small Speculators --</text>
<text class="mono" x="549.5" y="543.4" textLength="20.6" lengthAdjust="spacingAndGlyphs">Open</text>
<text class="mono" x="60.3" y="554.4" textLength="5.2" lengthAdjust="spacingAndGlyphs">#</text>
<text class="mono" x="96.3" y="554.4" textLength="20.6" lengthAdjust="spacingAndGlyphs">Long</text>
<text class="mono" x="142.7" y="554.4" textLength="25.8" lengthAdjust="spacingAndGlyphs">Short</text>
<text class="mono" x="173.6" y="554.4" textLength="36.1" lengthAdjust="spacingAndGlyphs">Bullish</text>
<text class="mono" x="225.1" y="554.4" textLength="5.2" lengthAdjust="spacingAndGlyphs">#</text>
<text class="mono" x="261.1" y="554.4" textLength="20.6" lengthAdjust="spacingAndGlyphs">Long</text>
<text class="mono" x="307.5" y="554.4" textLength="25.8" lengthAdjust="spacingAndGlyphs">Short</text>
<text class="mono" x="338.4" y="554.4" textLength="36.1" lengthAdjust="spacingAndGlyphs">Bullish</text>
<text class="mono" x="405.3" y="554.4" textLength="20.6" lengthAdjust="spacingAndGlyphs">Long</text>
<text class="mono" x="451.7" y="554.4" textLength="25.8" lengthAdjust="spacingAndGlyphs">Short</text>
<text class="mono" x="482.6" y="554.4" textLength="36.1" lengthAdjust="spacingAndGlyphs">Bullish</text>
<text class="mono" x="534.1" y="554.4" textLength="36.1" lengthAdjust="spacingAndGlyphs">Intrest</text>
<text y="566.1"><tspan class="sd" x="3.40 8.55">07</tspan><tspan class="mono" x="13.18">/</tspan><tspan class="sd" x="18.85 24.00">01</tspan><tspan class="mono" x="28.63">/</tspan><tspan class="sd" x="34.30 39.45">14</tspan></text>
<text y="566.1"><tspan class="sd" x="49.75 54.90 60.05">175</tspan></text>
<text y="566.1"><tspan class="sd" x="85.80 90.95">60</tspan><tspan class="mono" x="95.58">,</tspan><tspan class="sd" x="101.25 106.40 111.55">392</tspan></text>
<text y="566.1"><tspan class="sd" x="137.30 142.45">20</tspan><tspan class="mono" x="147.08">,</tspan><tspan class="sd" x="152.75 157.90 163.05">093</tspan></text>
<text y="566.1"><tspan class="sd" x="178.50 183.65">75</tspan><tspan class="mono" x="189.10" textLength="5.2" lengthAdjust="spacingAndGlyphs">%</tspan></text>
<text y="566.1"><tspan class="sd" x="219.70 224.85">84</tspan></text>
<text y="566.1"><tspan class="sd" x="250.60 255.75">52</tspan><tspan class="mono" x="260.38">,</tspan><tspan class="sd" x="266.05 271.20 276.35">495</tspan></text>
<text y="566.1"><tspan class="sd" x="296.95 302.10 307.25">104</tspan><tspan class="mono" x="311.88">,</tspan><tspan class="sd" x="317.55 322.70 327.85">450</tspan></text>
<text y="566.1"><tspan class="sd" x="343.30 348.45">33</tspan><tspan class="mono" x="353.90" textLength="5.2" lengthAdjust="spacingAndGlyphs">%</tspan></text>
<text y="566.1"><tspan class="sd" x="399.95 405.10 410.25 415.40 420.55">23928</tspan></text>
<text y="566.1"><tspan class="sd" x="446.30 451.45">12</tspan><tspan class="mono" x="456.08">,</tspan><tspan class="sd" x="461.75 466.90 472.05">272</tspan></text>
<text y="566.1"><tspan class="sd" x="487.50 492.65">66</tspan><tspan class="mono" x="498.10" textLength="5.2" lengthAdjust="spacingAndGlyphs">%</tspan></text>
<text y="566.1"><tspan class="sd" x="533.85 539.00 544.15">156</tspan><tspan class="mono" x="548.78">,</tspan><tspan class="sd" x="554.45 559.60 564.75">698</tspan></text>
<text y="577.3"><tspan class="sd" x="3.40 8.55">07</tspan><tspan class="mono" x="13.18">/</tspan><tspan class="sd" x="18.85 24.00">08</tspan><tspan class="mono" x="28.63">/</tspan><tspan class="sd" x="34.30 39.45">14</tspan></text>
<text y="577.3"><tspan class="sd" x="49.75 54.90 60.05">175</tspan></text>
<text y="577.3"><tspan class="sd" x="85.80 90.95">67</tspan><tspan class="mono" x="95.58">,</tspan><tspan class="sd" x="101.25 106.40 111.55">029</tspan></text>
<text y="577.3"><tspan class="sd" x="137.30 142.45">19</tspan><tspan class="mono" x="147.08">,</tspan><tspan class="sd" x="152.75 157.90 163.05">148</tspan></text>
<text y="577.3"><tspan class="sd" x="178.50 183.65">78</tspan><tspan class="mono" x="189.10" textLength="5.2" lengthAdjust="spacingAndGlyphs">%</tspan></text>
<text y="577.3"><tspan class="sd" x="219.70 224.85">85</tspan></text>
<text y="577.3"><tspan class="sd" x="250.60 255.75">51</tspan><tspan class="mono" x="260.38">,</tspan><tspan class="sd" x="266.05 271.20 276.35">053</tspan></text>
<text y="577.3"><tspan class="sd" x="296.95 302.10 307.25">109</tspan><tspan class="mono" x="311.88">,</tspan><tspan class="sd" x="317.55 322.70 327.85">071</tspan></text>
<text y="577.3"><tspan class="sd" x="343.30 348.45">32</tspan><tspan class="mono" x="353.90" textLength="5.2" lengthAdjust="spacingAndGlyphs">%</tspan></text>
<text y="577.3"><tspan class="sd" x="399.95 405.10 410.25 415.40 420.55">23258</tspan></text>
<text y="577.3"><tspan class="sd" x="446.30 451.45">13</tspan><tspan class="mono" x="456.08">,</tspan><tspan class="sd" x="461.75 466.90 472.05">121</tspan></text>
<text y="577.3"><tspan class="sd" x="487.50 492.65">64</tspan><tspan class="mono" x="498.10" textLength="5.2" lengthAdjust="spacingAndGlyphs">%</tspan></text>
<text y="577.3"><tspan class="sd" x="533.85 539.00 544.15">162</tspan><tspan class="mono" x="548.78">,</tspan><tspan class="sd" x="554.45 559.60 564.75">879</tspan></text>
<text y="588.3"><tspan class="sd" x="3.40 8.55">07</tspan><tspan class="mono" x="13.18">/</tspan><tspan class="sd" x="18.85 24.00">15</tspan><tspan class="mono" x="28.63">/</tspan><tspan class="sd" x="34.30 39.45">14</tspan></text>
<text y="588.3"><tspan class="sd" x="49.75 54.90 60.05">178</tspan></text>
<text y="588.3"><tspan class="sd" x="85.80 90.95">65</tspan><tspan class="mono" x="95.58">,</tspan><tspan class="sd" x="101.25 106.40 111.55">907</tspan></text>
<text y="588.3"><tspan class="sd" x="137.30 142.45">16</tspan><tspan class="mono" x="147.08">,</tspan><tspan class="sd" x="152.75 157.90 163.05">629</tspan></text>
<text y="588.3"><tspan class="sd" x="178.50 183.65">80</tspan><tspan class="mono" x="189.10" textLength="5.2" lengthAdjust="spacingAndGlyphs">%</tspan></text>
<text y="588.3"><tspan class="sd" x="219.70 224.85">81</tspan></text>
<text y="588.3"><tspan class="sd" x="250.60 255.75">49</tspan><tspan class="mono" x="260.38">,</tspan><tspan class="sd" x="266.05 271.20 276.35">410</tspan></text>
<text y="588.3"><tspan class="sd" x="296.95 302.10 307.25">108</tspan><tspan class="mono" x="311.88">,</tspan><tspan class="sd" x="317.55 322.70 327.85">106</tspan></text>
<text y="588.3"><tspan class="sd" x="343.30 348.45">31</tspan><tspan class="mono" x="353.90" textLength="5.2" lengthAdjust="spacingAndGlyphs">%</tspan></text>
<text y="588.3"><tspan class="sd" x="399.95 405.10 410.25 415.40 420.55">22356</tspan></text>
<text y="588.3"><tspan class="sd" x="446.30 451.45">12</tspan><tspan class="mono" x="456.08">,</tspan><tspan class="sd" x="461.75 466.90 472.05">938</tspan></text>
<text y="588.3"><tspan class="sd" x="487.50 492.65">63</tspan><tspan class="mono" x="498.10" textLength="5.2" lengthAdjust="spacingAndGlyphs">%</tspan></text>
<text y="588.3"><tspan class="sd" x="533.85 539.00 544.15">162</tspan><tspan class="mono" x="548.78">,</tspan><tspan class="sd" x="554.45 559.60 564.75">447</tspan></text>
<text y="599.3"><tspan class="sd" x="3.40 8.55">07</tspan><tspan class="mono" x="13.18">/</tspan><tspan class="sd" x="18.85 24.00">22</tspan><tspan class="mono" x="28.63">/</tspan><tspan class="sd" x="34.30 39.45">14</tspan></text>
<text y="599.3"><tspan class="sd" x="49.75 54.90 60.05">178</tspan></text>
<text y="599.3"><tspan class="sd" x="85.80 90.95">64</tspan><tspan class="mono" x="95.58">,</tspan><tspan class="sd" x="101.25 106.40 111.55">277</tspan></text>
<text y="599.3"><tspan class="sd" x="137.30 142.45">16</tspan><tspan class="mono" x="147.08">,</tspan><tspan class="sd" x="152.75 157.90 163.05">752</tspan></text>
<text y="599.3"><tspan class="sd" x="178.50 183.65">79</tspan><tspan class="mono" x="189.10" textLength="5.2" lengthAdjust="spacingAndGlyphs">%</tspan></text>
<text y="599.3"><tspan class="sd" x="219.70 224.85">77</tspan></text>
<text y="599.3"><tspan class="sd" x="250.60 255.75">49</tspan><tspan class="mono" x="260.38">,</tspan><tspan class="sd" x="266.05 271.20 276.35">553</tspan></text>
<text y="599.3"><tspan class="sd" x="296.95 302.10 307.25">107</tspan><tspan class="mono" x="311.88">,</tspan><tspan class="sd" x="317.55 322.70 327.85">900</tspan></text>
<text y="599.3"><tspan class="sd" x="343.30 348.45">31</tspan><tspan class="mono" x="353.90" textLength="5.2" lengthAdjust="spacingAndGlyphs">%</tspan></text>
<text y="599.3"><tspan class="sd" x="399.95 405.10 410.25 415.40 420.55">23066</tspan></text>
<text y="599.3"><tspan class="sd" x="446.30 451.45">12</tspan><tspan class="mono" x="456.08">,</tspan><tspan class="sd" x="461.75 466.90 472.05">244</tspan></text>
<text y="599.3"><tspan class="sd" x="487.50 492.65">65</tspan><tspan class="mono" x="498.10" textLength="5.2" lengthAdjust="spacingAndGlyphs">%</tspan></text>
<text y="599.3"><tspan class="sd" x="533.85 539.00 544.15">162</tspan><tspan class="mono" x="548.78">,</tspan><tspan class="sd" x="554.45 559.60 564.75">485</tspan></text>
<text y="610.4"><tspan class="sd" x="3.40 8.55">07</tspan><tspan class="mono" x="13.18">/</tspan><tspan class="sd" x="18.85 24.00">29</tspan><tspan class="mono" x="28.63">/</tspan><tspan class="sd" x="34.30 39.45">14</tspan></text>
<text y="610.4"><tspan class="sd" x="49.75 54.90 60.05">171</tspan></text>
<text y="610.4"><tspan class="sd" x="85.80 90.95">59</tspan><tspan class="mono" x="95.58">,</tspan><tspan class="sd" x="101.25 106.40 111.55">030</tspan></text>
<text y="610.4"><tspan class="sd" x="137.30 142.45">14</tspan><tspan class="mono" x="147.08">,</tspan><tspan class="sd" x="152.75 157.90 163.05">918</tspan></text>
<text y="610.4"><tspan class="sd" x="178.50 183.65">80</tspan><tspan class="mono" x="189.10" textLength="5.2" lengthAdjust="spacingAndGlyphs">%</tspan></text>
<text y="610.4"><tspan class="sd" x="219.70 224.85">75</tspan></text>
<text y="610.4"><tspan class="sd" x="250.60 255.75">51</tspan><tspan class="mono" x="260.38">,</tspan><tspan class="sd" x="266.05 271.20 276.35">091</tspan></text>
<text y="610.4"><tspan class="sd" x="296.95 302.10 307.25">107</tspan><tspan class="mono" x="311.88">,</tspan><tspan class="sd" x="317.55 322.70 327.85">674</tspan></text>
<text y="610.4"><tspan class="sd" x="343.30 348.45">32</tspan><tspan class="mono" x="353.90" textLength="5.2" lengthAdjust="spacingAndGlyphs">%</tspan></text>
<text y="610.4"><tspan class="sd" x="399.95 405.10 410.25 415.40 420.55">23846</tspan></text>
<text y="610.4"><tspan class="sd" x="446.30 451.45">11</tspan><tspan class="mono" x="456.08">,</tspan><tspan class="sd" x="461.75 466.90 472.05">375</tspan></text>
<text y="610.4"><tspan class="sd" x="487.50 492.65">68</tspan><tspan class="mono" x="498.10" textLength="5.2" lengthAdjust="spacingAndGlyphs">%</tspan></text>
<text y="610.4"><tspan class="sd" x="533.85 539.00 544.15">158</tspan><tspan class="mono" x="548.78">,</tspan><tspan class="sd" x="554.45 559.60 564.75">558</tspan></text>
</svg>
</body></html>
